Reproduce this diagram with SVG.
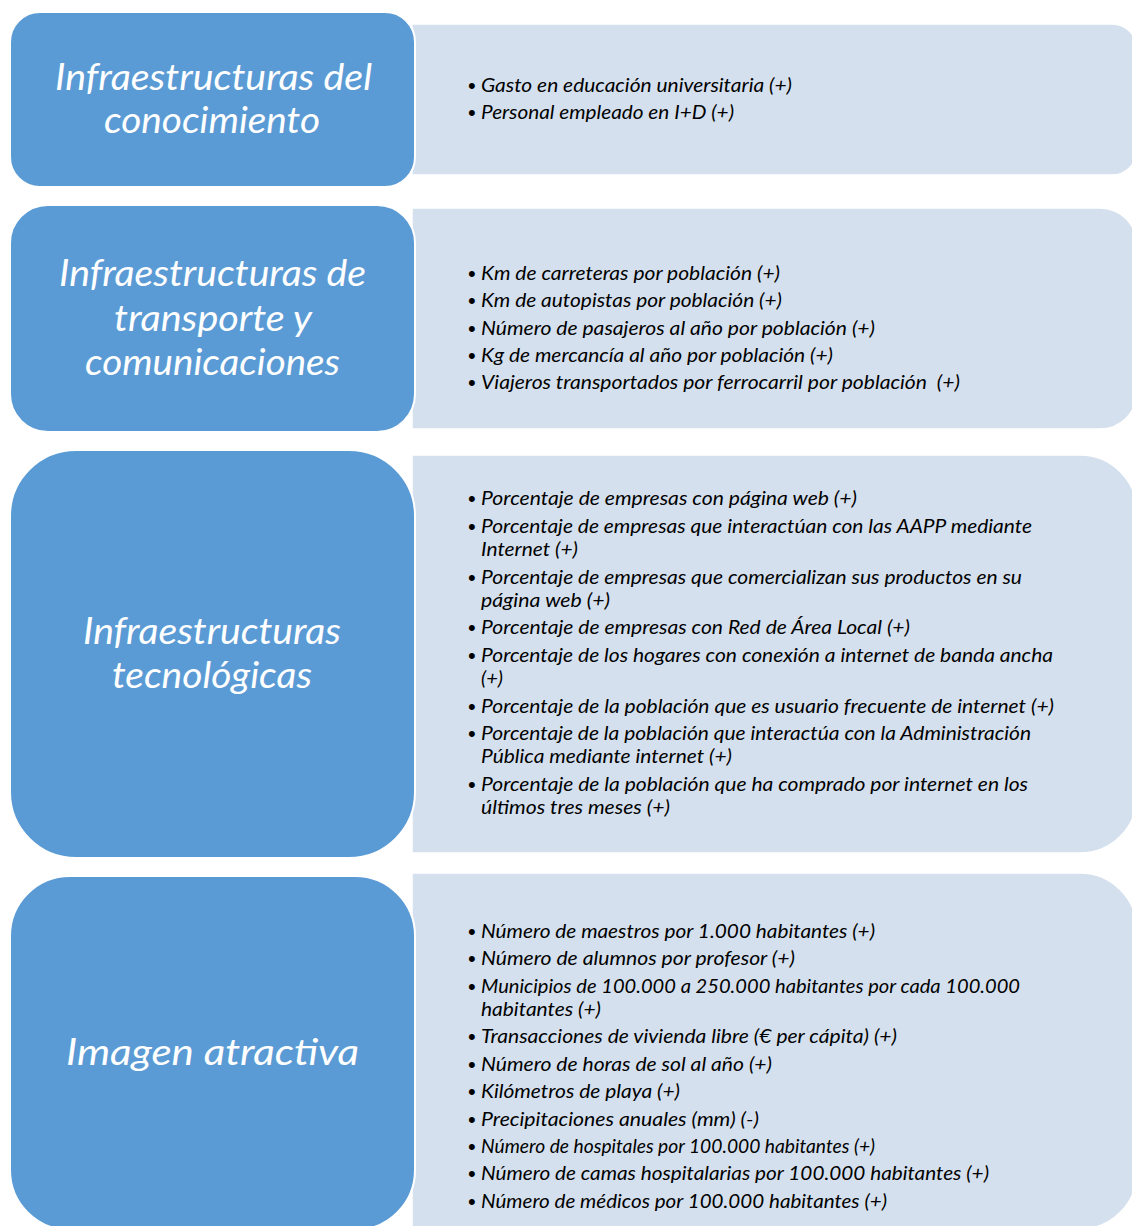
<svg xmlns="http://www.w3.org/2000/svg" width="1132" height="1226" viewBox="0 0 1132 1226">
<style>
.lb{fill:#D5E0EE;stroke:#ffffff;stroke-width:1.5}
.bb{fill:#5B9BD5;stroke:#ffffff;stroke-width:2}
.t{font-family:Lato,"Open Sans",sans-serif;font-style:italic;font-size:37px;fill:#ffffff}
.b{font-family:Lato,"Open Sans",sans-serif;font-style:italic;font-size:20px;fill:#000000}
.d{font-family:"Liberation Sans",sans-serif;font-size:22px;fill:#000000}
</style>
<rect width="1132" height="1226" fill="#ffffff"/>
<g id="connectors"/>
<g id="list1">
<path class="lb" d="M412,24 H1112 A25,25 0 0 1 1137,49 V150 A25,25 0 0 1 1112,175 H412 Z"/>
<g transform="translate(0,1)">
<text class="d" x="468" y="92">•</text><text class="b" x="481" y="91" textLength="311" lengthAdjust="spacingAndGlyphs">Gasto en educación universitaria (+)</text>
<text class="d" x="468" y="119">•</text><text class="b" x="481" y="118" textLength="253" lengthAdjust="spacingAndGlyphs">Personal empleado en I+D (+)</text>
</g>
</g>
<g id="list2">
<path class="lb" d="M412,208 H1100 A37,37 0 0 1 1137,245 V392 A37,37 0 0 1 1100,429 H412 Z"/>
<g transform="translate(0,1)">
<text class="d" x="468" y="280">•</text><text class="b" x="481" y="279" textLength="299" lengthAdjust="spacingAndGlyphs">Km de carreteras por población (+)</text>
<text class="d" x="468" y="307">•</text><text class="b" x="481" y="306" textLength="301" lengthAdjust="spacingAndGlyphs">Km de autopistas por población (+)</text>
<text class="d" x="468" y="335">•</text><text class="b" x="481" y="334" textLength="394" lengthAdjust="spacingAndGlyphs">Número de pasajeros al año por población (+)</text>
<text class="d" x="468" y="362">•</text><text class="b" x="481" y="361" textLength="352" lengthAdjust="spacingAndGlyphs">Kg de mercancía al año por población (+)</text>
<text class="d" x="468" y="389">•</text><text class="b" x="481" y="388" textLength="479" lengthAdjust="spacingAndGlyphs" xml:space="preserve">Viajeros transportados por ferrocarril por población  (+)</text>
</g>
</g>
<g id="list3">
<path class="lb" d="M412,455 H1080 A57,57 0 0 1 1137,512 V796 A57,57 0 0 1 1080,853 H412 Z"/>
<g transform="translate(0,1)">
<text class="d" x="468" y="505">•</text><text class="b" x="481" y="504" textLength="376" lengthAdjust="spacingAndGlyphs">Porcentaje de empresas con página web (+)</text>
<text class="d" x="468" y="533">•</text><text class="b" x="481" y="532" textLength="551" lengthAdjust="spacingAndGlyphs">Porcentaje de empresas que interactúan con las AAPP mediante</text>
<text class="b" x="481" y="555" textLength="97" lengthAdjust="spacingAndGlyphs">Internet (+)</text>
<text class="d" x="468" y="584">•</text><text class="b" x="481" y="583" textLength="541" lengthAdjust="spacingAndGlyphs">Porcentaje de empresas que comercializan sus productos en su</text>
<text class="b" x="481" y="606" textLength="129" lengthAdjust="spacingAndGlyphs">página web (+)</text>
<text class="d" x="468" y="634">•</text><text class="b" x="481" y="633" textLength="429" lengthAdjust="spacingAndGlyphs">Porcentaje de empresas con Red de Área Local (+)</text>
<text class="d" x="468" y="662">•</text><text class="b" x="481" y="661" textLength="572" lengthAdjust="spacingAndGlyphs">Porcentaje de los hogares con conexión a internet de banda ancha</text>
<text class="b" x="481" y="684" textLength="22" lengthAdjust="spacingAndGlyphs">(+)</text>
<text class="d" x="468" y="713">•</text><text class="b" x="481" y="712" textLength="573" lengthAdjust="spacingAndGlyphs">Porcentaje de la población que es usuario frecuente de internet (+)</text>
<text class="d" x="468" y="740">•</text><text class="b" x="481" y="739" textLength="550" lengthAdjust="spacingAndGlyphs">Porcentaje de la población que interactúa con la Administración</text>
<text class="b" x="481" y="762" textLength="251" lengthAdjust="spacingAndGlyphs">Pública mediante internet (+)</text>
<text class="d" x="468" y="791">•</text><text class="b" x="481" y="790" textLength="547" lengthAdjust="spacingAndGlyphs">Porcentaje de la población que ha comprado por internet en los</text>
<text class="b" x="481" y="813" textLength="189" lengthAdjust="spacingAndGlyphs">últimos tres meses (+)</text>
</g>
</g>
<g id="list4">
<path class="lb" d="M412,873 H1080 A57,57 0 0 1 1137,930 V1172 A57,57 0 0 1 1080,1229 H412 Z"/>
<g transform="translate(0,1)">
<text class="d" x="468" y="938">•</text><text class="b" x="481" y="937" textLength="394" lengthAdjust="spacingAndGlyphs">Número de maestros por 1.000 habitantes (+)</text>
<text class="d" x="468" y="965">•</text><text class="b" x="481" y="964" textLength="314" lengthAdjust="spacingAndGlyphs">Número de alumnos por profesor (+)</text>
<text class="d" x="468" y="993">•</text><text class="b" x="481" y="992" textLength="539" lengthAdjust="spacingAndGlyphs">Municipios de 100.000 a 250.000 habitantes por cada 100.000</text>
<text class="b" x="481" y="1015" textLength="120" lengthAdjust="spacingAndGlyphs">habitantes (+)</text>
<text class="d" x="468" y="1043">•</text><text class="b" x="481" y="1042" textLength="416" lengthAdjust="spacingAndGlyphs">Transacciones de vivienda libre (€ per cápita) (+)</text>
<text class="d" x="468" y="1071">•</text><text class="b" x="481" y="1070" textLength="291" lengthAdjust="spacingAndGlyphs">Número de horas de sol al año (+)</text>
<text class="d" x="468" y="1098">•</text><text class="b" x="481" y="1097" textLength="199" lengthAdjust="spacingAndGlyphs">Kilómetros de playa (+)</text>
<text class="d" x="468" y="1126">•</text><text class="b" x="481" y="1125" textLength="278" lengthAdjust="spacingAndGlyphs">Precipitaciones anuales (mm) (-)</text>
<text class="d" x="468" y="1153">•</text><text class="b" x="481" y="1152" textLength="394" lengthAdjust="spacingAndGlyphs">Número de hospitales por 100.000 habitantes (+)</text>
<text class="d" x="468" y="1180">•</text><text class="b" x="481" y="1179" textLength="508" lengthAdjust="spacingAndGlyphs">Número de camas hospitalarias por 100.000 habitantes (+)</text>
<text class="d" x="468" y="1208">•</text><text class="b" x="481" y="1207" textLength="406" lengthAdjust="spacingAndGlyphs">Número de médicos por 100.000 habitantes (+)</text>
</g>
</g>
<g id="cat1">
<rect class="bb" x="10" y="12" width="405" height="175" rx="30" ry="30"/>
<text class="t" x="55" y="90" textLength="317" lengthAdjust="spacingAndGlyphs">Infraestructuras del</text>
<text class="t" x="104" y="133" textLength="216" lengthAdjust="spacingAndGlyphs">conocimiento</text>
</g>
<g id="cat2">
<rect class="bb" x="10" y="205" width="405" height="227" rx="38" ry="38"/>
<text class="t" x="59" y="286" textLength="307" lengthAdjust="spacingAndGlyphs">Infraestructuras de</text>
<text class="t" x="114" y="331" textLength="198" lengthAdjust="spacingAndGlyphs">transporte y</text>
<text class="t" x="85" y="375" textLength="255" lengthAdjust="spacingAndGlyphs">comunicaciones</text>
</g>
<g id="cat3">
<rect class="bb" x="10" y="450" width="405" height="408" rx="66" ry="66"/>
<text class="t" x="83" y="644" textLength="258" lengthAdjust="spacingAndGlyphs">Infraestructuras</text>
<text class="t" x="112" y="688" textLength="200" lengthAdjust="spacingAndGlyphs">tecnológicas</text>
</g>
<g id="cat4">
<rect class="bb" x="10" y="876" width="405" height="354" rx="60" ry="60"/>
<text class="t" x="66" y="1065" textLength="293" lengthAdjust="spacingAndGlyphs">Imagen atractiva</text>
</g>
</svg>
